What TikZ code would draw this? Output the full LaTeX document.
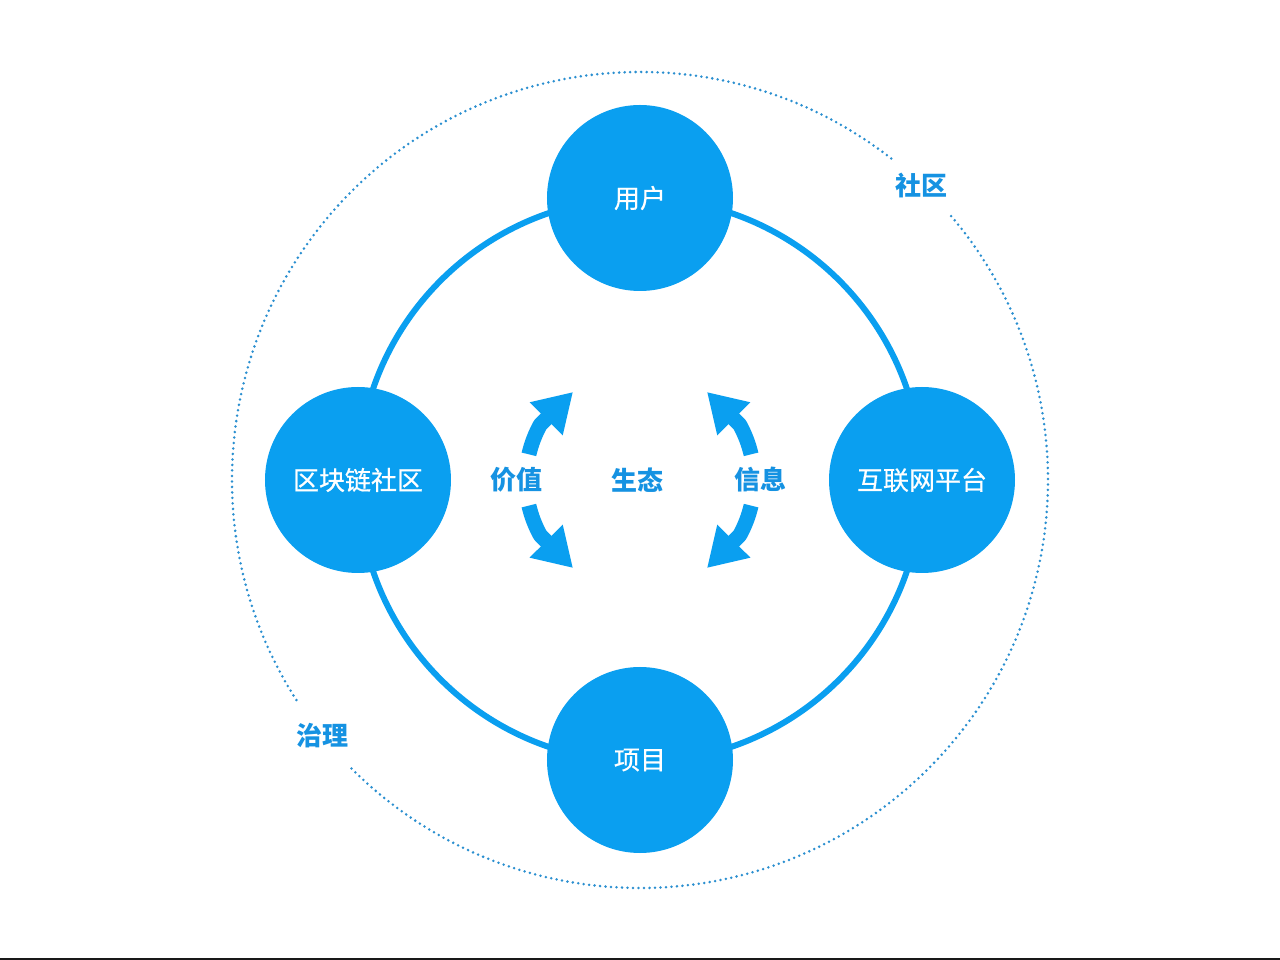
\documentclass[tikz,border=0pt]{standalone}
\usepackage{fontspec}
\newfontfamily\cjk{Noto Sans CJK SC}
\newfontfamily\cjkmed{Noto Sans CJK SC}[BoldFont={Noto Sans CJK SC},BoldFeatures={FakeBold=0.6}]
\usetikzlibrary{arrows.meta}
\definecolor{nodeblue}{HTML}{0A9FF0}
\definecolor{textblue}{HTML}{1592E2}
\definecolor{dotblue}{HTML}{2A8FD0}
\tikzset{
  hub/.style={circle,fill=nodeblue,minimum size=186pt,inner sep=0pt,text=white,font=\cjkmed\bfseries\fontsize{26}{30}\selectfont},
  lbl/.style={text=textblue,font=\cjk\bfseries\fontsize{26}{30}\selectfont,inner sep=0pt},
  ring/.style={draw=nodeblue,line width=6pt},
  dots/.style={draw=dotblue,line width=2.8pt,dash pattern=on 0pt off 5.5pt,line cap=round},
  flow/.style={draw=nodeblue,line width=15pt,line join=round,-{Triangle[length=38pt,width=44pt]}}
}
\begin{document}
\begin{tikzpicture}[x=1pt,y=1pt]
\useasboundingbox (-640,-480) rectangle (640,480);
\fill[white] (-640,-480) rectangle (640,480);
\coordinate (c) at (0,0);
% outer dotted circle with gaps for labels
\draw[dots] (52:408) arc[start angle=52,end angle=213,radius=408];
\draw[dots] (225:408) arc[start angle=225,end angle=401,radius=408];
% ring
\draw[ring] (c) circle[radius=282];
% nodes
\node[hub] (user) at (90:282) {用户};
\node[hub] (proj) at (270:280) {项目};
\node[hub] (chain) at (180:282) {区块链社区};
\node[hub] (net) at (0:282) {互联网平台};
% arrow tips
\coordinate (tul) at (-67,88);
\coordinate (tll) at (-67,-88);
\coordinate (tur) at (67,88);
\coordinate (tlr) at (67,-88);
% arrows
\draw[flow] (167:114) arc[start angle=167,end angle=151,radius=114] -- (tul);
\draw[flow] (193:114) arc[start angle=193,end angle=209,radius=114] -- (tll);
\draw[flow] (13:114) arc[start angle=13,end angle=29,radius=114] -- (tur);
\draw[flow] (-13:114) arc[start angle=-13,end angle=-29,radius=114] -- (tlr);
% labels
\node[lbl] (val) at (-123,0) {价值};
\node[lbl] (eco) at (-2,0) {生态};
\node[lbl] (info) at (120,0) {信息};
\node[lbl] (comm) at (281,294) {社区};
\node[lbl] (gov) at (-317,-256) {治理};
% bottom rule
\draw[black!90,line width=2pt] (-640,-478.5) -- (640,-478.5);
\end{tikzpicture}
\end{document}
